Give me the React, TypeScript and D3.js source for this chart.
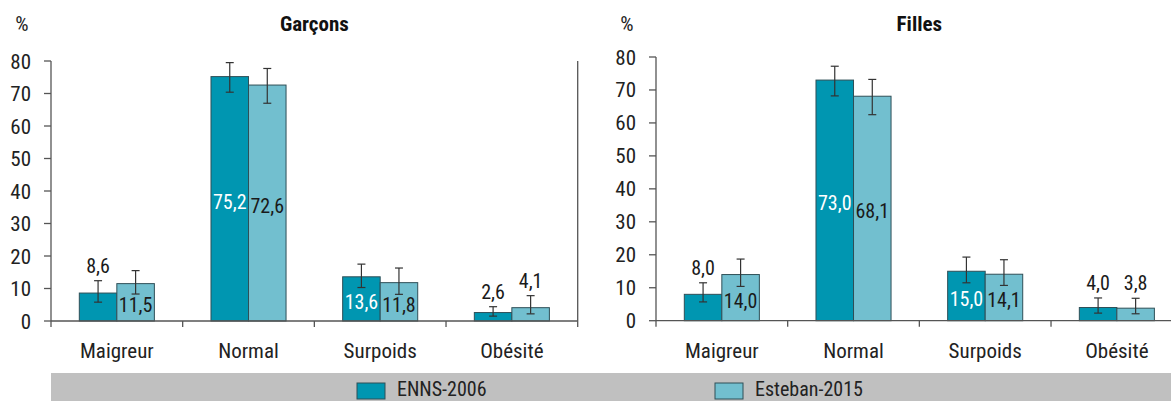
import React from "react";
import * as d3 from "d3";

const categories = ["Maigreur", "Normal", "Surpoids", "Obésité"];
const seriesNames = ["ENNS-2006", "Esteban-2015"];
const yTicks = [0, 10, 20, 30, 40, 50, 60, 70, 80];

const garconsENNS = [8.6, 75.2, 13.6, 2.6];
const garconsENNSLow = [5.8, 70.4, 10.3, 1.5];
const garconsENNSHigh = [12.4, 79.5, 17.5, 4.4];
const garconsEsteban = [11.5, 72.6, 11.8, 4.1];
const garconsEstebanLow = [8.3, 67.0, 8.2, 2.2];
const garconsEstebanHigh = [15.5, 77.7, 16.3, 7.8];
const garconsENNSInside = [false, true, true, false];
const garconsEstebanInside = [true, true, true, false];

const fillesENNS = [8.0, 73.0, 15.0, 4.0];
const fillesENNSLow = [5.7, 68.2, 11.5, 2.3];
const fillesENNSHigh = [11.5, 77.2, 19.3, 6.9];
const fillesEsteban = [14.0, 68.1, 14.1, 3.8];
const fillesEstebanLow = [10.4, 62.5, 10.7, 2.1];
const fillesEstebanHigh = [18.7, 73.2, 18.5, 6.8];
const fillesENNSInside = [false, true, true, false];
const fillesEstebanInside = [true, true, true, false];

const COLORS = ["#0096b1", "#72bfcf"];
const FONT = "'Liberation Sans Narrow', 'Roboto Condensed', 'DejaVu Sans Condensed', 'Liberation Sans', sans-serif";
const fmt = (v: number) => v.toFixed(1).replace(".", ",");

type Series = { values: number[]; low: number[]; high: number[]; inside: boolean[] };

function Panel(props: {
  title: string;
  x0: number;
  x1: number;
  yTop: number;
  yZero: number;
  series: Series[];
  rightLine: boolean;
}) {
  const { title, x0, x1, yTop, yZero, series, rightLine } = props;
  const y = d3.scaleLinear().domain([0, 80]).range([yZero, yTop]);
  const x = d3.scaleBand<string>().domain(categories).range([x0, x1]).paddingInner(0.43).paddingOuter(0.215);
  const xs = d3.scaleBand<string>().domain(seriesNames).range([0, x.bandwidth()]);
  const step = x.step();
  const axisColor = "#555";
  return (
    <g>
      <text x={(x0 + x1) / 2} y={31} textAnchor="middle" fontFamily={FONT} fontWeight="bold" fontSize={21} fill="#111">
        {title}
      </text>
      <text x={x0 - 29} y={31} textAnchor="middle" fontFamily={FONT} fontSize={21} fill="#222">%</text>
      <line x1={x0} x2={x0} y1={y(80)} y2={yZero} stroke={axisColor} strokeWidth={1.3} />
      {yTicks.map((t) => (
        <g key={t}>
          <line x1={x0 - 7} x2={x0} y1={y(t)} y2={y(t)} stroke={axisColor} strokeWidth={1.3} />
          <text x={x0 - 20} y={y(t) + 7.5} textAnchor="end" fontFamily={FONT} fontSize={21} fill="#222">{t}</text>
        </g>
      ))}
      {rightLine && <line x1={x1} x2={x1} y1={y(80)} y2={yZero} stroke={axisColor} strokeWidth={1.3} />}
      {categories.map((c, i) => (
        <g key={c}>
          {series.map((s, j) => {
            const bx = (x(c) as number) + (xs(seriesNames[j]) as number);
            const bw = xs.bandwidth();
            const top = y(s.values[i]);
            const cx = bx + bw / 2;
            const inside = s.inside[i];
            const ly = inside ? (top + yZero) / 2 + 10 : y(s.high[i]) - 8;
            const lc = inside ? (j === 0 ? "#fff" : "#1a1a1a") : "#1a1a1a";
            return (
              <g key={j}>
                <rect x={bx} y={top} width={bw} height={yZero - top} fill={COLORS[j]} stroke="#2f4f57" strokeWidth={1} />
                <line x1={cx} x2={cx} y1={y(s.low[i])} y2={y(s.high[i])} stroke="#333" strokeWidth={1.2} />
                <line x1={cx - 4} x2={cx + 4} y1={y(s.low[i])} y2={y(s.low[i])} stroke="#333" strokeWidth={1.2} />
                <line x1={cx - 4} x2={cx + 4} y1={y(s.high[i])} y2={y(s.high[i])} stroke="#333" strokeWidth={1.2} />
                <text x={cx} y={ly} textAnchor="middle" fontFamily={FONT} fontSize={20} fill={lc}>{fmt(s.values[i])}</text>
              </g>
            );
          })}
          <text x={(x(c) as number) + x.bandwidth() / 2} y={358} textAnchor="middle" fontFamily={FONT} fontSize={21} fill="#222">{c}</text>
        </g>
      ))}
      <line x1={x0} x2={x1 + (rightLine ? 0 : 20)} y1={yZero} y2={yZero} stroke={axisColor} strokeWidth={1.3} />
      {d3.range(categories.length + 1).map((k) => (
        <line key={k} x1={x0 + k * step} x2={x0 + k * step} y1={yZero} y2={yZero + 6} stroke={axisColor} strokeWidth={1.3} />
      ))}
    </g>
  );
}

export default function App() {
  const garcons: Series[] = [
    { values: garconsENNS, low: garconsENNSLow, high: garconsENNSHigh, inside: garconsENNSInside },
    { values: garconsEsteban, low: garconsEstebanLow, high: garconsEstebanHigh, inside: garconsEstebanInside },
  ];
  const filles: Series[] = [
    { values: fillesENNS, low: fillesENNSLow, high: fillesENNSHigh, inside: fillesENNSInside },
    { values: fillesEsteban, low: fillesEstebanLow, high: fillesEstebanHigh, inside: fillesEstebanInside },
  ];
  const legendX = [357, 715];
  return (
    <svg width={1171} height={401} style={{ position: "absolute", left: 0, top: 0, background: "#fff" }}>
      <rect x={0} y={0} width={1171} height={401} fill="#fff" />
      <Panel title="Garçons" x0={51} x1={577.7} yTop={61} yZero={321} series={garcons} rightLine={true} />
      <Panel title="Filles" x0={656} x1={1182.7} yTop={57} yZero={320.7} series={filles} rightLine={false} />
      <rect x={51} y={373} width={1120} height={28} fill="#c0c0c0" />
      {seriesNames.map((n, j) => (
        <g key={n}>
          <rect x={legendX[j]} y={383} width={28} height={16} fill={COLORS[j]} stroke="#2f4f57" strokeWidth={1} />
          <text x={legendX[j] + 40} y={396} fontFamily={FONT} fontSize={20} fill="#222">{n}</text>
        </g>
      ))}
    </svg>
  );
}
